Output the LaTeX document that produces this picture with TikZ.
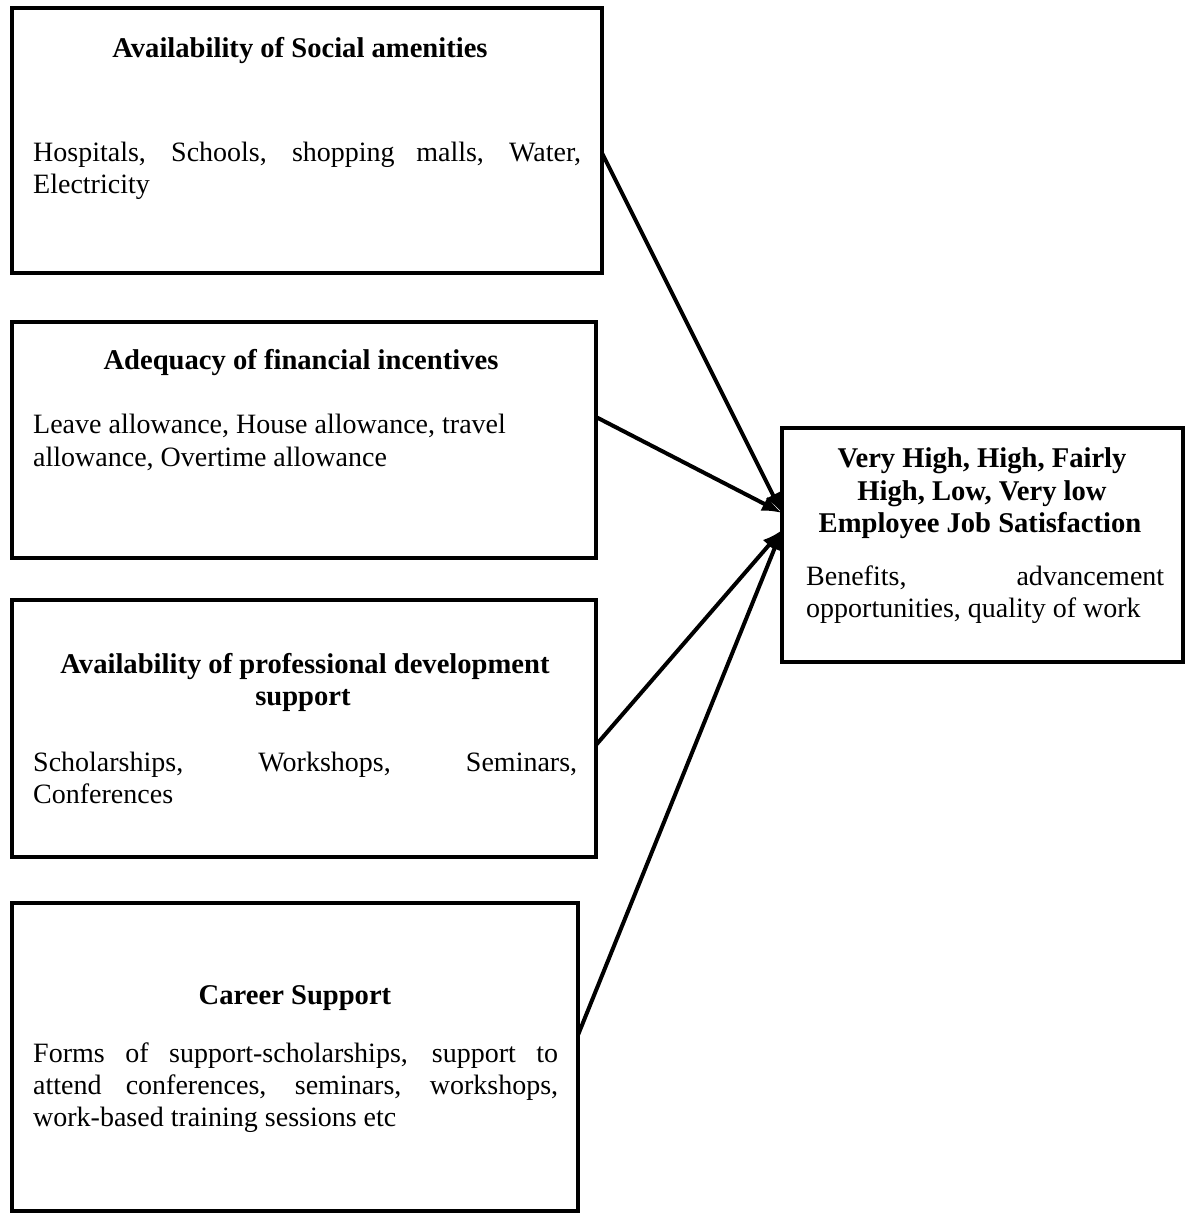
\documentclass[tikz,border=0pt]{standalone}
\usepackage{fontspec}
\setmainfont{Liberation Serif}
\usetikzlibrary{arrows.meta}
\tikzset{
  box/.style={draw, line width=3.2pt, inner sep=0pt, outer sep=0pt},
  ttl/.style={anchor=base, inner sep=0pt, font=\fontsize{28.6}{32}\selectfont\bfseries},
  txt/.style={anchor=base west, inner sep=0pt, font=\fontsize{28}{32}\selectfont},
  conn/.style={line width=4pt, -{Latex[length=20pt,width=16pt]}}
}
\begin{document}
\begin{tikzpicture}[x=1pt,y=-1pt]
\useasboundingbox (0,0) rectangle (1185,1213);
% boxes
\node[box, minimum width=590pt, minimum height=265pt] (b1) at (307,140.5) {};
\node[box, minimum width=584pt, minimum height=236pt] (b2) at (304,440) {};
\node[box, minimum width=584pt, minimum height=257pt] (b3) at (304,728.5) {};
\node[box, minimum width=566pt, minimum height=308pt] (b4) at (295,1057) {};
\node[box, minimum width=401pt, minimum height=234pt] (r) at (982.5,545) {};
% box 1
\node[ttl] (t1) at (300,57) {Availability of Social amenities};
\node[txt] (t1a) at (33,161) {\makebox[548pt][s]{Hospitals, Schools, shopping malls, Water,}};
\node[txt] (t1b) at (33,193) {Electricity};
% box 2
\node[ttl] (t2) at (301,369) {Adequacy of financial incentives};
\node[txt] (t2a) at (33,433) {Leave allowance, House allowance, travel};
\node[txt] (t2b) at (33,466) {allowance, Overtime allowance};
% box 3
\node[ttl] (t3) at (305,673) {Availability of professional development};
\node[ttl] (t3s) at (303,705) {support};
\node[txt] (t3a) at (33,771) {\makebox[544pt][s]{Scholarships, Workshops, Seminars,}};
\node[txt] (t3b) at (33,803) {Conferences};
% box 4
\node[ttl] (t4) at (295,1004) {Career Support};
\node[txt] (t4a) at (33,1062) {\makebox[525pt][s]{Forms of support-scholarships, support to}};
\node[txt] (t4b) at (33,1094) {\makebox[525pt][s]{attend conferences, seminars, workshops,}};
\node[txt] (t4c) at (33,1126) {work-based training sessions etc};
% right box
\node[ttl] (r1) at (982,467) {Very High, High, Fairly};
\node[ttl] (r2) at (982,500) {High, Low, Very low};
\node[ttl] (r3) at (980,532) {Employee Job Satisfaction};
\node[txt] (r4) at (806,585) {\makebox[358pt][s]{Benefits, advancement}};
\node[txt] (r5) at (806,617) {opportunities, quality of work};
% connectors
\draw[conn] ([yshift=-12.5pt]b1.east) -- ([yshift=32pt]r.west);
\draw[conn] ([yshift=23pt]b2.east) -- ([yshift=32pt]r.west);
\draw[conn] ([yshift=-16.5pt]b3.east) -- ([yshift=15pt]r.west);
\draw[conn] ([yshift=22pt]b4.east) -- ([yshift=15pt]r.west);
\end{tikzpicture}
\end{document}
